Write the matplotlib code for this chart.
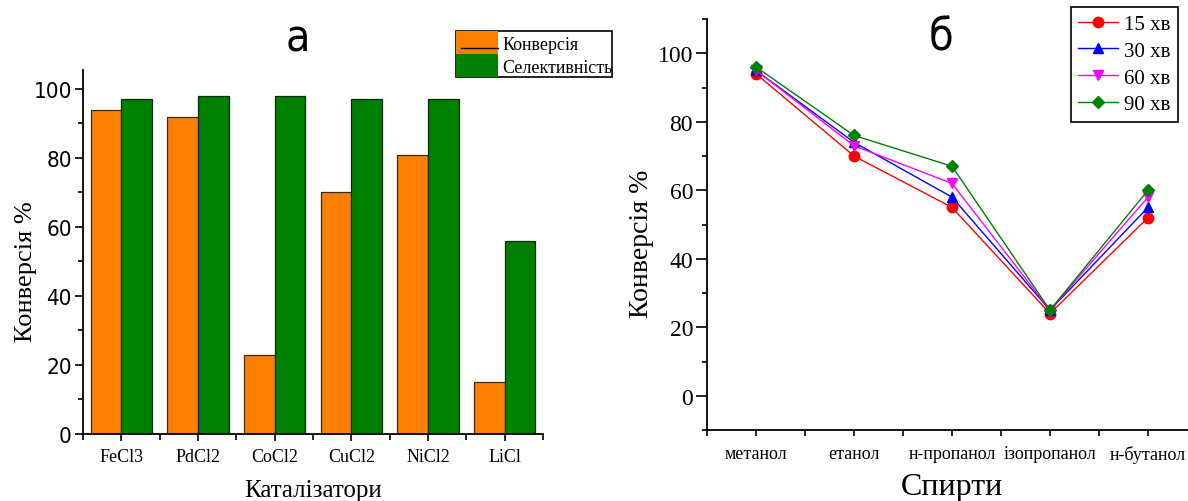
import os
os.environ.setdefault("MPLBACKEND", "Agg")
import matplotlib.pyplot as plt
from matplotlib import font_manager as fm
from matplotlib.patches import Rectangle, Patch
from matplotlib.lines import Line2D
from matplotlib.legend_handler import HandlerBase
from matplotlib.ticker import MultipleLocator

# --- panel a: catalysts ---
catalysts = ["FeCl3", "PdCl2", "CoCl2", "CuCl2", "NiCl2", "LiCl"]
conversion = [94, 92, 23, 70, 81, 15]
selectivity = [97, 98, 98, 97, 97, 56]

# --- panel b: alcohols ---
alcohols = ["метанол", "етанол", "н-пропанол", "ізопропанол", "н-бутанол"]
conv_15 = [94, 70, 55, 24, 52]
conv_30 = [95, 74, 58, 25, 55]
conv_60 = [95, 73, 62, 25, 58]
conv_90 = [96, 76, 67, 25, 60]
time_labels = ["15 хв", "30 хв", "60 хв", "90 хв"]

SERIF = ["Liberation Serif", "DejaVu Serif"]
ORANGE = "#ff8000"
GREEN = "#008000"

plt.rcParams.update({
    "font.family": SERIF,
    "axes.spines.top": False, "axes.spines.right": False,
    "axes.linewidth": 1.3,
    "xtick.direction": "out", "ytick.direction": "out",
    "xtick.major.size": 5, "ytick.major.size": 6,
    "xtick.minor.size": 4, "ytick.minor.size": 3.5,
    "xtick.major.width": 1.2, "ytick.major.width": 1.2,
    "xtick.minor.width": 1.2, "ytick.minor.width": 1.2,
})


def narrow_font(size):
    # matplotlib does not match on stretch, so point at the condensed DejaVu file
    for f in fm.fontManager.ttflist:
        if os.path.basename(f.fname) == "DejaVuSansCondensed.ttf":
            return fm.FontProperties(fname=f.fname, size=size)
    return fm.FontProperties(family="DejaVu Sans", size=size)


class PatchWithLine(HandlerBase):
    # Origin-style legend swatch: filled block with a dark stroke near the bottom
    def create_artists(self, legend, orig_handle, xdescent, ydescent,
                       width, height, fontsize, trans):
        x0, y0 = -xdescent, -ydescent
        r = Rectangle((x0, y0), width, height, facecolor=orig_handle.get_facecolor(),
                      edgecolor="none", transform=trans)
        ln = Line2D([x0 + 0.12 * width, x0 + width], [y0 + 0.25 * height] * 2,
                    color="black", lw=1.0, transform=trans)
        return [r, ln]


class PlainPatch(HandlerBase):
    def create_artists(self, legend, orig_handle, xdescent, ydescent,
                       width, height, fontsize, trans):
        return [Rectangle((-xdescent, -ydescent), width, height,
                          facecolor=orig_handle.get_facecolor(),
                          edgecolor="none", transform=trans)]


def draw_catalysts(fig):
    ax = fig.add_axes([83 / 1188, 67 / 502, 460 / 1188, 364 / 502])
    x = range(len(catalysts))
    w = 0.4
    ax.bar([i - w / 2 for i in x], conversion, width=w, color=ORANGE,
           edgecolor="#3a2a10", linewidth=0.9)
    ax.bar([i + w / 2 for i in x], selectivity, width=w, color=GREEN,
           edgecolor="#0a2a0a", linewidth=0.9)
    ax.set_xlim(-0.5, len(catalysts) - 0.5)
    ax.set_ylim(0, 105.5)
    ax.set_xticks(list(x))
    ax.set_xticks([i + 0.5 for i in range(-1, len(catalysts))], minor=True)
    ax.set_xticklabels(catalysts, fontsize=13)
    ax.yaxis.set_minor_locator(MultipleLocator(10))
    ax.set_yticks([0, 20, 40, 60, 80, 100])
    ax.set_yticklabels(["0", "20", "40", "60", "80", "100"],
                       fontproperties=narrow_font(16))
    ax.tick_params(axis="x", pad=5)
    ax.tick_params(axis="y", pad=2)
    ax.set_ylabel("Конверсія %", fontsize=19)
    ax.yaxis.set_label_coords(-0.10, 0.45)
    ax.set_xlabel("Каталізатори", fontsize=18, labelpad=10)
    ax.text(0.467, 1.03, "a", transform=ax.transAxes, ha="center", va="bottom",
            fontproperties=narrow_font(32))

    h_conv = Patch(facecolor=ORANGE)
    h_sel = Patch(facecolor=GREEN)
    leg = fig.legend([h_conv, h_sel], ["Конверсія", "Селективність"],
                     loc="upper left", bbox_to_anchor=(456 / 1188, 1 - 32 / 502),
                     handler_map={h_conv: PatchWithLine(), h_sel: PlainPatch()},
                     fontsize=13, handlelength=2.35, handleheight=1.6,
                     handletextpad=0.2, labelspacing=0.0, borderpad=0.0,
                     borderaxespad=0.0, fancybox=False, framealpha=1,
                     edgecolor="black")
    leg.get_frame().set_linewidth(1.2)
    return ax


def draw_alcohols(fig):
    ax = fig.add_axes([707 / 1188, 71 / 502, 490 / 1188, 411 / 502])
    x = list(range(len(alcohols)))
    styles = [
        (conv_15, "#ff0000", "o"),
        (conv_30, "#0000ff", "^"),
        (conv_60, "#ff00ff", "v"),
        (conv_90, "#008000", "D"),
    ]
    for (vals, col, mk), lab in zip(styles, time_labels):
        ax.plot(x, vals, color=col, marker=mk, markersize=7.5 if mk != "D" else 6.5,
                linewidth=1.0, label=lab, clip_on=False)
    ax.set_xlim(-0.5, len(alcohols) - 0.5)
    ax.set_ylim(-10, 110)
    ax.set_xticks(x)
    ax.set_xticks([i + 0.5 for i in range(-1, len(alcohols))], minor=True)
    ax.set_xticklabels(alcohols, fontsize=13)
    ax.yaxis.set_minor_locator(MultipleLocator(10))
    ax.set_yticks([0, 20, 40, 60, 80, 100])
    ax.tick_params(axis="y", labelsize=17, length=8, pad=2)
    ax.tick_params(axis="x", length=4, pad=7)
    ax.set_ylabel("Конверсія %", fontsize=20)
    ax.yaxis.set_label_coords(-0.108, 0.455)
    ax.set_xlabel("Спирти", fontsize=23, labelpad=6)
    ax.text(941 / 1188, 1 - 38 / 502, "б", transform=fig.transFigure,
            ha="center", va="center", fontproperties=narrow_font(32))
    leg = fig.legend(handles=ax.get_lines(), loc="upper right",
                     bbox_to_anchor=(1178 / 1188, 1 - 8 / 502),
                     fontsize=15, numpoints=1, handlelength=1.9,
                     handletextpad=0.3, labelspacing=0.35, borderpad=0.35,
                     borderaxespad=0.0, fancybox=False, framealpha=1,
                     edgecolor="black")
    leg.get_frame().set_linewidth(1.2)
    return ax


def main():
    fig = plt.figure(figsize=(11.88, 5.02), dpi=100)
    draw_catalysts(fig)
    draw_alcohols(fig)
    fig.savefig("out.png", dpi=100)
    plt.close(fig)


if __name__ == "__main__":
    main()
